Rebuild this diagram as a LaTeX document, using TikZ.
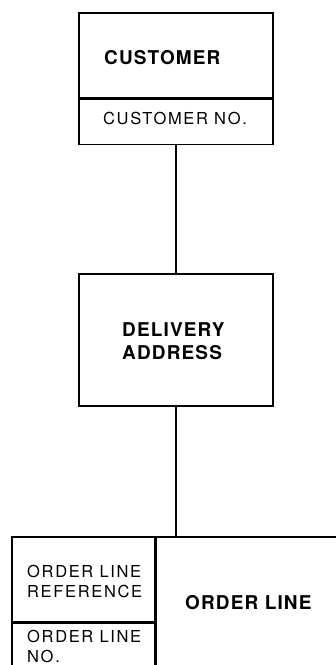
\documentclass[tikz,border=0pt]{standalone}
\usepackage{fontspec}
\setmainfont{TeX Gyre Heros}
\newfontfamily\keyfont[LetterSpace=10]{TeX Gyre Heros}
\newfontfamily\entfont[LetterSpace=6]{TeX Gyre Heros}
\usepackage{tikz}
\usetikzlibrary{positioning}
\tikzset{
  entbox/.style = {draw, line width=1.6pt, inner sep=0pt},
  entname/.style = {font=\entfont\bfseries\fontsize{19}{23}\selectfont, inner sep=0pt, anchor=base west, align=left},
  keyname/.style = {font=\keyfont\fontsize{16.5}{20}\selectfont, inner sep=0pt, anchor=base west, align=left},
  link/.style = {line width=1.6pt},
}
\begin{document}
\begin{tikzpicture}[x=1pt, y=1pt]
  \useasboundingbox (0,0) rectangle (336,665);
  \clip (0,0) rectangle (336,665);
  % customer
  \node[entbox, minimum width=194pt, minimum height=85pt] (cust) at (176,609.5) {};
  \node[entbox, minimum width=194pt, minimum height=45pt, below=0pt of cust] (custkey) {};
  \node[entname] (custtxt) at (104,600) {CUSTOMER};
  \node[keyname] (custkeytxt) at (103,540) {CUSTOMER NO.};
  % delivery address
  \node[entbox, minimum width=194pt, minimum height=132pt] (deliv) at (176,325) {};
  \node[entname] (delivtxt) at (122,305) {DELIVERY\\ADDRESS};
  % order line
  \node[entbox, minimum width=143pt, minimum height=85pt] (olref) at (83.5,85.5) {};
  \node[entbox, minimum width=143pt, minimum height=60pt, below=0pt of olref] (olno) {};
  \node[entbox, anchor=north west, minimum width=200pt, minimum height=145pt] (olmain) at (olref.north east) {};
  \node[keyname] (olreftxt) at (27,67) {ORDER LINE\\REFERENCE};
  \node[keyname] (olnotxt) at (27,2) {ORDER LINE\\NO.};
  \node[entname] (olmaintxt) at (185,55) {ORDER LINE};
  % connections
  \draw[link] (custkey.south) -- (deliv.north);
  \draw[link] (deliv.south) -- (deliv.south |- olmain.north);
\end{tikzpicture}
\end{document}
